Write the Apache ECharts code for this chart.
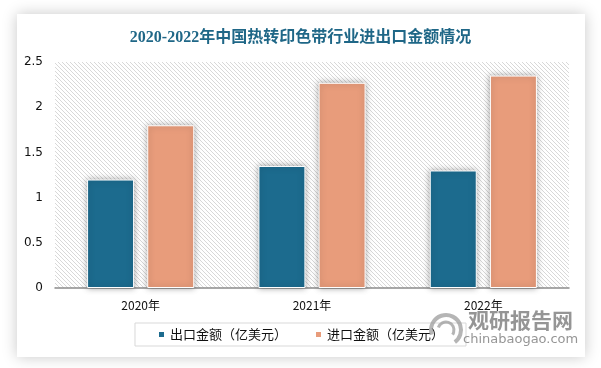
<!DOCTYPE html>
<html>
<head>
<meta charset="utf-8">
<script src="https://cdn.jsdelivr.net/npm/echarts@6/dist/echarts.min.js"></script>
<style>
html,body{margin:0;padding:0;background:#fff;}
#main{width:601px;height:368px;}
</style>
</head>
<body>
<div id="main"></div>
<script>
var title = '2020-2022年中国热转印色带行业进出口金额情况';
var categories = ['2020年', '2021年', '2022年'];
var exportName = '出口金额（亿美元）';
var importName = '进口金额（亿美元）';
var exportValues = [1.2, 1.35, 1.3];
var importValues = [1.8, 2.27, 2.35];
var yTicks = [0, 0.5, 1, 1.5, 2, 2.5];

var pc = document.createElement('canvas');
pc.width = 4; pc.height = 4;
var ctx = pc.getContext('2d');
ctx.fillStyle = '#ffffff';
ctx.fillRect(0, 0, 4, 4);
ctx.fillStyle = '#d8d8d8';
for (var i = 0; i < 4; i++) { ctx.fillRect(i, i, 1, 1); }

var chart = echarts.init(document.getElementById('main'), null, {renderer: 'canvas'});
var option = {
  backgroundColor: '#ffffff',
  animation: false,
  title: {
    text: title,
    left: 'center',
    top: 25,
    textStyle: {
      fontFamily: '"Liberation Serif", "Noto Sans CJK SC", serif',
      fontSize: 16,
      fontWeight: 'bold',
      color: '#1f6787'
    }
  },
  graphic: [
    {
      type: 'rect', z: -10, silent: true,
      shape: {x: 17, y: 14, width: 568, height: 343},
      style: {fill: '#ffffff', shadowBlur: 14, shadowColor: 'rgba(0,0,0,0.22)', shadowOffsetX: 0, shadowOffsetY: 0}
    },
    {
      type: 'arc', z: 10, silent: true,
      shape: {cx: 446, cy: 330, r: 15, startAngle: Math.PI * 0.9, endAngle: Math.PI * 2.3},
      style: {stroke: 'rgba(150,150,150,0.7)', lineWidth: 4, fill: null}
    },
    {
      type: 'arc', z: 10, silent: true,
      shape: {cx: 446, cy: 330, r: 8, startAngle: Math.PI * 1.1, endAngle: Math.PI * 2.2},
      style: {stroke: 'rgba(150,150,150,0.7)', lineWidth: 3, fill: null}
    },
    {
      type: 'text', z: 10, silent: true,
      left: 468, top: 310,
      style: {text: '观研报告网', fill: 'rgba(130,130,130,0.85)', font: 'bold 21px "Noto Sans CJK SC"'}
    },
    {
      type: 'text', z: 10, silent: true,
      left: 463, top: 333,
      style: {text: 'chinabaogao.com', fill: 'rgba(130,130,130,0.85)', font: '13px "DejaVu Sans"'}
    }
  ],
  legend: {
    data: [
      {name: exportName},
      {name: importName}
    ],
    top: 323,
    left: 'center',
    icon: 'rect',
    itemWidth: 7,
    itemHeight: 7,
    itemGap: 27,
    padding: [5, 22, 5, 22],
    borderColor: '#d9d9d9',
    borderWidth: 1,
    textStyle: {fontSize: 13, color: '#111', fontFamily: '"Noto Sans CJK SC", sans-serif'}
  },
  grid: {
    left: 55, right: 32, top: 62, bottom: 80,
    show: true,
    backgroundColor: {image: pc, repeat: 'repeat'},
    borderWidth: 0
  },
  xAxis: {
    type: 'category',
    data: categories,
    axisLine: {lineStyle: {color: '#8c8c8c', width: 1.5}},
    axisTick: {show: false},
    axisLabel: {color: '#111', fontSize: 12, margin: 11, fontFamily: '"Noto Sans CJK SC", sans-serif'}
  },
  yAxis: {
    type: 'value',
    min: yTicks[0],
    max: yTicks[yTicks.length - 1],
    interval: yTicks[1] - yTicks[0],
    splitLine: {show: false},
    axisLine: {show: false},
    axisTick: {show: false},
    axisLabel: {color: '#111', fontSize: 12, margin: 12, fontFamily: '"DejaVu Sans", sans-serif'}
  },
  series: [
    {
      name: exportName,
      type: 'bar',
      data: exportValues,
      barWidth: 47,
      barGap: '28%',
      itemStyle: {color: '#1c6b8e', borderColor: '#ffffff', borderWidth: 1, shadowBlur: 6, shadowColor: 'rgba(0,0,0,0.35)'}
    },
    {
      name: importName,
      type: 'bar',
      data: importValues,
      barWidth: 47,
      barGap: '28%',
      itemStyle: {color: '#e89c7b', borderColor: '#ffffff', borderWidth: 1, shadowBlur: 6, shadowColor: 'rgba(0,0,0,0.35)'}
    }
  ]
};
chart.setOption(option);
</script>
</body>
</html>
